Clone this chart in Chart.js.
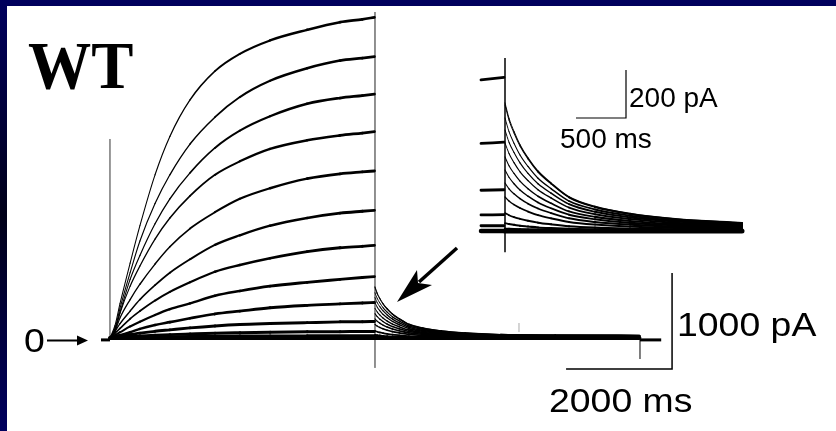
<!DOCTYPE html>
<html lang="en">
<head>
<meta charset="UTF-8">
<title>WT current traces</title>
<script src="https://cdn.jsdelivr.net/npm/chart.js@4.4.0/dist/chart.umd.min.js"></script>
<style>
  html, body { margin: 0; padding: 0; }
  body {
    width: 836px; height: 431px; overflow: hidden; position: relative;
    background: linear-gradient(to bottom, #00005e 0%, #000018 50%, #00005e 100%);
  }
  .panel { position: absolute; left: 7px; top: 6px; right: 0; bottom: 0; background: #fff; }
  canvas { position: absolute; left: 0; top: 0; }
</style>
</head>
<body>
<div class="panel"></div>
<canvas id="traces" width="836" height="431"></canvas>
<script>
// sample times during the 5 s activating step (ms)
const stepTimes = [0, 95, 190, 380, 565, 850, 1130, 1510, 1980, 2450, 3020, 3720, 4340, 4760, 4990];

// current during the step (pA), one row per test potential
const stepCurrents = [
  [0, 130, 360, 780, 1170, 1700, 2100, 2480, 2780, 2960, 3100, 3210, 3290, 3320, 3340],
  [0, 100, 310, 680, 1010, 1400, 1700, 2020, 2300, 2510, 2680, 2810, 2890, 2915, 2930],
  [0, 90, 270, 610, 860, 1190, 1450, 1720, 1980, 2160, 2310, 2440, 2500, 2525, 2540],
  [0, 80, 260, 540, 750, 1030, 1250, 1480, 1700, 1840, 1970, 2060, 2110, 2135, 2150],
  [0, 70, 210, 400, 560, 770, 950, 1140, 1310, 1450, 1560, 1660, 1710, 1730, 1740],
  [0, 70, 150, 280, 400, 550, 680, 820, 970, 1070, 1170, 1250, 1300, 1320, 1330],
  [0, 50, 100, 200, 280, 390, 480, 580, 690, 760, 830, 900, 940, 955, 965],
  [0, 30, 60, 120, 170, 240, 300, 360, 440, 490, 540, 580, 610, 630, 640],
  [0, 20, 30, 60, 95, 135, 165, 205, 250, 280, 315, 340, 355, 365, 370],
  [0, 10, 20, 35, 50, 70, 85, 105, 125, 140, 150, 160, 168, 170, 172],
  [0, 0, 8, 15, 20, 28, 35, 42, 50, 55, 60, 64, 66, 67, 68],
  [0, 0, 0, 4, 6, 9, 12, 15, 18, 20, 21, 22, 22, 22, 22],
  [0, 0, 0, 0, 0, 0, 0, 0, 0, 0, 0, 0, 0, 0, 0]
];

// tail currents after stepping back (ms / pA)
const tailTimes = [5000, 5040, 5090, 5150, 5230, 5330, 5460, 5640, 5900, 6250, 6700, 7370, 8400, 9990];
const tailCurrents = [
  [534, 470, 415, 360, 305, 250, 200, 142, 102, 72, 50, 33, 28, 25],
  [525, 462, 408, 354, 300, 246, 197, 140, 100, 71, 49, 33, 27, 25],
  [471, 414, 366, 317, 269, 220, 177, 125, 90, 64, 44, 29, 25, 22],
  [421, 370, 327, 284, 240, 197, 158, 112, 80, 57, 40, 26, 22, 20],
  [367, 323, 285, 247, 210, 172, 138, 98, 70, 50, 34, 23, 19, 17],
  [309, 272, 240, 208, 176, 145, 116, 82, 59, 42, 29, 19, 16, 15],
  [254, 224, 197, 171, 145, 119, 95, 68, 49, 34, 24, 16, 13, 12],
  [200, 176, 155, 135, 114, 94, 75, 53, 38, 27, 19, 12, 10, 9],
  [142, 125, 110, 96, 81, 66, 53, 38, 27, 19, 13, 9, 7, 7],
  [75, 66, 58, 51, 43, 35, 28, 20, 14, 10, 7, 5, 4, 4],
  [33, 29, 26, 22, 19, 15, 12, 9, 6, 4, 3, 2, 2, 2],
  [10, 9, 8, 7, 6, 5, 4, 3, 2, 1, 1, 1, 1, 1],
  [0, 0, 0, 0, 0, 0, 0, 0, 0, 0, 0, 0, 0, 0]
];

// holding level before and after the protocol
const holdBefore = [[-170, -20], [0, -20]];
const holdAfter = [[10000, -20], [10400, -20]];

// protocol marker lines [time, from, to]
const stepMarker = [0, 0, 2073];
const tailMarker = [5000, -312, 3396];
const endMarker = [10000, -219, 10];
const midTick = [7717, 62, 156];

// scale bars: main 2000 ms / 1000 pA, inset 500 ms / 200 pA
const mainBar = [[8605, -323], [10605, -323], [10605, 677]];
const insetBar = [[5710, 471], [6210, 471], [6210, 671]];
const insetMarker = [5000, -88, 721];
const insetWindow = [4760, 7370];

const pts = (xs, ys) => xs.map((x, i) => ({ x: x, y: ys[i] }));
const pairs = arr => arr.map(p => ({ x: p[0], y: p[1] }));
const vline = m => [{ x: m[0], y: m[1] }, { x: m[0], y: m[2] }];

// noisy recordings look thick where flat and thin where steep
function slopeWidth(thin, thick) {
  return ctx => {
    const dx = ctx.p1.x - ctx.p0.x, dy = ctx.p1.y - ctx.p0.y;
    const s = Math.abs(dy) / (Math.hypot(dx, dy) || 1);
    return thin + (thick - thin) * (1 - s);
  };
}

const traceStyle = {
  pointRadius: 0, fill: false, borderColor: '#000',
  cubicInterpolationMode: 'monotone', borderCapStyle: 'round', borderJoinStyle: 'round'
};
const plainStyle = { pointRadius: 0, fill: false, borderColor: '#000', borderWidth: 1, tension: 0 };

const datasets = [];
const last = stepCurrents.length - 1;

// main panel
stepCurrents.forEach((row, i) => {
  datasets.push(Object.assign({}, traceStyle, {
    data: pts(stepTimes, row),
    borderWidth: i === last ? 4 : 2.8,
    segment: i === last ? {} : { borderWidth: slopeWidth(1, 3) }
  }));
});
tailCurrents.forEach((row, i) => {
  datasets.push(Object.assign({}, traceStyle, {
    data: pts(tailTimes, row),
    borderWidth: i === last ? 4 : 1.6,
    segment: i === last ? {} : { borderWidth: slopeWidth(0.8, 1.9) }
  }));
});
datasets.push(Object.assign({}, plainStyle, { data: pairs(holdBefore), borderWidth: 3 }));
datasets.push(Object.assign({}, plainStyle, { data: pairs(holdAfter), borderWidth: 3 }));
datasets.push(Object.assign({}, plainStyle, { data: vline(stepMarker), borderColor: '#333' }));
datasets.push(Object.assign({}, plainStyle, { data: vline(tailMarker), borderColor: '#222' }));
datasets.push(Object.assign({}, plainStyle, { data: vline(endMarker) }));
datasets.push(Object.assign({}, plainStyle, { data: vline(midTick), borderColor: '#aaa' }));
datasets.push(Object.assign({}, plainStyle, { data: pairs(mainBar), borderWidth: 1.5 }));

// inset: same traces on a magnified pair of axes
const inset = { xAxisID: 'xi', yAxisID: 'yi' };
stepCurrents.forEach((row, i) => {
  if (row[row.length - 1] > 700) return;
  const d = pts(stepTimes, row).filter(p => p.x >= insetWindow[0]);
  datasets.push(Object.assign({}, traceStyle, inset, { data: d, borderWidth: i === last ? 4.5 : 2.8 }));
});
tailCurrents.forEach((row, i) => {
  const d = pts(tailTimes, row).filter(p => p.x <= insetWindow[1]);
  datasets.push(Object.assign({}, traceStyle, inset, {
    data: d,
    borderWidth: i === last ? 5 : 1.6,
    segment: i === last ? {} : { borderWidth: slopeWidth(0.9, 2.2) }
  }));
});
datasets.push(Object.assign({}, plainStyle, inset, { data: vline(insetMarker), borderWidth: 1.5 }));
datasets.push(Object.assign({}, plainStyle, inset, { data: pairs(insetBar), borderWidth: 1.2 }));

function drawLabel(c, text, x, y, font, sx) {
  c.save();
  c.translate(x, y);
  c.scale(sx, 1);
  c.font = font;
  c.fillStyle = '#000';
  c.textBaseline = 'alphabetic';
  c.fillText(text, 0, 0);
  c.restore();
}

const labels = {
  id: 'labels',
  afterDraw(chart) {
    const c = chart.ctx;
    const sans = '"Liberation Sans", Arial, sans-serif';
    drawLabel(c, 'WT', 28, 88, 'bold 68px "Liberation Serif", "Times New Roman", serif', 0.93);
    drawLabel(c, '0', 24, 352, '34px ' + sans, 1.1);
    drawLabel(c, '1000 pA', 677, 336, '34px ' + sans, 1.1);
    drawLabel(c, '2000 ms', 549, 412, '34px ' + sans, 1.1);
    drawLabel(c, '200 pA', 629, 107, '28px ' + sans, 1);
    drawLabel(c, '500 ms', 560, 148, '28px ' + sans, 1);

    c.save();
    c.strokeStyle = '#000';
    c.fillStyle = '#000';
    // arrow pointing at the zero level
    c.lineWidth = 2;
    c.beginPath(); c.moveTo(47, 340.5); c.lineTo(80, 340.5); c.stroke();
    c.beginPath(); c.moveTo(88, 340.5); c.lineTo(77, 335.5); c.lineTo(77, 345.5); c.closePath(); c.fill();
    // arrow pointing at the tail currents
    c.lineWidth = 3.5;
    c.beginPath(); c.moveTo(457, 248); c.lineTo(419, 282); c.stroke();
    c.beginPath();
    c.moveTo(397, 302); c.lineTo(417, 270); c.lineTo(418, 283); c.lineTo(432, 285);
    c.closePath(); c.fill();
    c.restore();
  }
};

new Chart(document.getElementById('traces'), {
  type: 'line',
  data: { datasets: datasets },
  options: {
    responsive: false,
    animation: false,
    devicePixelRatio: 1,
    layout: { padding: 0 },
    plugins: { legend: { display: false }, tooltip: { enabled: false } },
    scales: {
      x: { type: 'linear', display: false, min: -2075, max: 13698 },
      y: { type: 'linear', display: false, min: -969, max: 3521 },
      xi: { type: 'linear', display: false, min: -50, max: 8310 },
      yi: { type: 'linear', display: false, min: -833, max: 962.5 }
    }
  },
  plugins: [labels]
});
</script>
</body>
</html>
